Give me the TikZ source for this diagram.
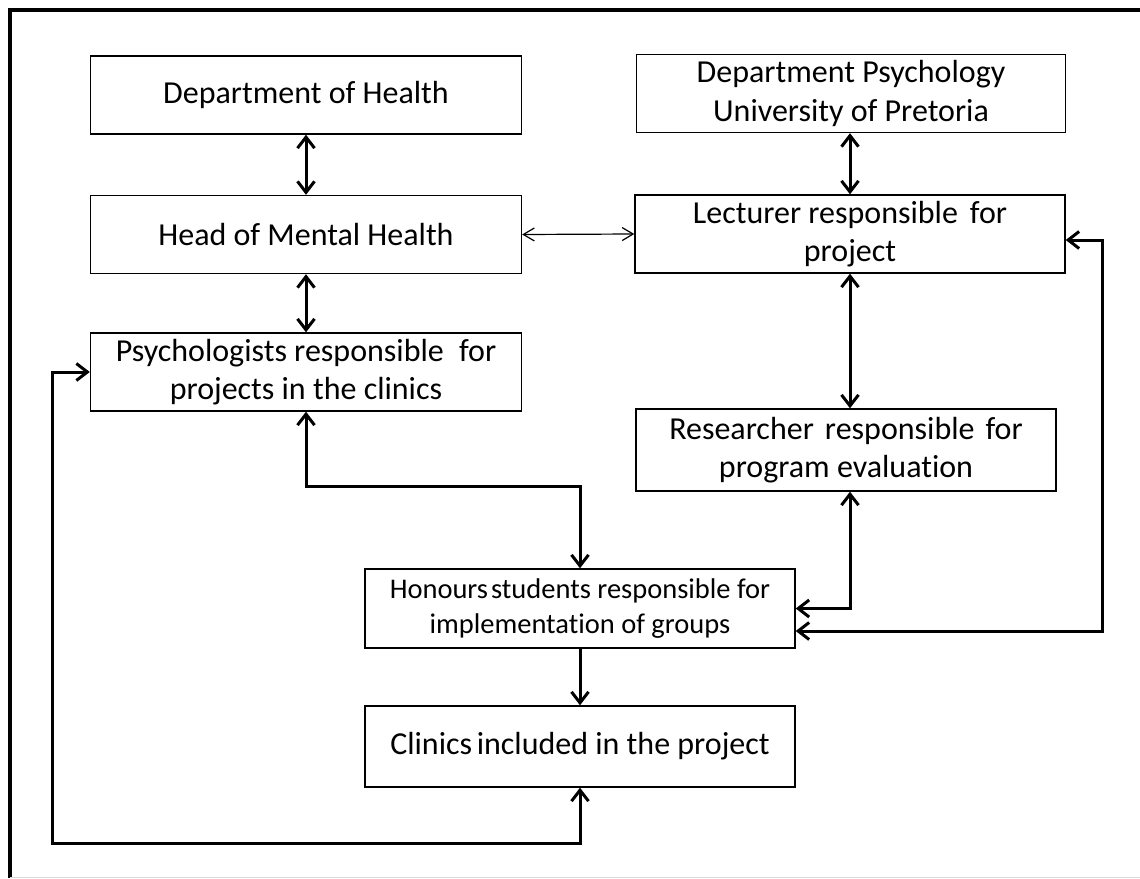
\documentclass[tikz,border=0pt]{standalone}
\usepackage{fontspec}
\setmainfont{Carlito}[Ligatures=NoCommon]
\usetikzlibrary{arrows.meta}
\begin{document}
\begin{tikzpicture}[x=1pt,y=-1pt,
  orgbox/.style={draw, line width=1.4pt, align=center, inner sep=0pt,
    minimum width=431pt, minimum height=78pt,
    font=\fontsize{32}{38.5}\selectfont},
  smalltext/.style={font=\fontsize{28.5}{35}\selectfont},
  thick link/.style={line width=3pt,
    arrows={Straight Barb[length=11pt,width=17pt]-Straight Barb[length=11pt,width=17pt]}},
  thick one/.style={line width=3pt, -{Straight Barb[length=11pt,width=17pt]}},
  thin link/.style={line width=1.2pt,
    arrows={Straight Barb[length=11pt,width=13pt]-Straight Barb[length=11pt,width=13pt]}}]
\useasboundingbox (0,0) rectangle (1140,878);

% outer frame
\draw[line width=4.5pt] (10,878) -- (10,10) -- (1140,10);
\draw[black!15, line width=1pt] (10,877.5) -- (1140,877.5);

% boxes
\node[orgbox] (doh) at (306,95) {Department of Health};
\node[orgbox, minimum width=429pt] (dp) at (851,93.5) {Department Psychology\\University of Pretoria};
\node[orgbox] (hmh) at (306,234.5) {Head of Mental Health};
\node[orgbox, minimum width=430pt] (lec) at (850,234) {Lecturer responsible\hspace{0.15em} for\\project};
\node[orgbox] (psy) at (306,372) {Psychologists responsible\hspace{0.25em} for\\projects in the clinics};
\node[orgbox, minimum width=420pt, minimum height=82pt] (res) at (846,450) {Researcher\hspace{0.12em} responsible\hspace{0.12em} for\\program evaluation};
\node[orgbox, smalltext, minimum width=430pt, minimum height=79pt] (hon) at (580,608.5) {Honours\hspace{-0.12em} students responsible for\\implementation of groups};
\node[orgbox, minimum width=430pt, minimum height=81pt] (cli) at (580,746.5) {Clinics\hspace{-0.08em} included in the project};

% corner points of the routed connectors
\coordinate (rt) at (1102,631);
\coordinate (bl) at (52,843);

% connectors
\draw[thick link] (doh.south) -- (hmh.north);
\draw[thin link] (hmh.east) -- (lec.west);
\draw[thick link] (dp.south -| lec.north) -- (lec.north);
\draw[thick link] (hmh.south) -- (psy.north);
\draw[thick link] (lec.south) -- (lec.south |- res.north);
\draw[thick link] (psy.south) -- ++(0,75) -| (hon.north);
\draw[thick link] (lec.south |- res.south) |- (hon.east);
\draw[thick link] ([yshift=-6pt]lec.east) -| (rt) -- (hon.east |- rt);
\draw[thick one] (hon.south) -- (cli.north);
\draw[thick link] (cli.south) |- (bl) |- (psy.west);
\end{tikzpicture}
\end{document}
